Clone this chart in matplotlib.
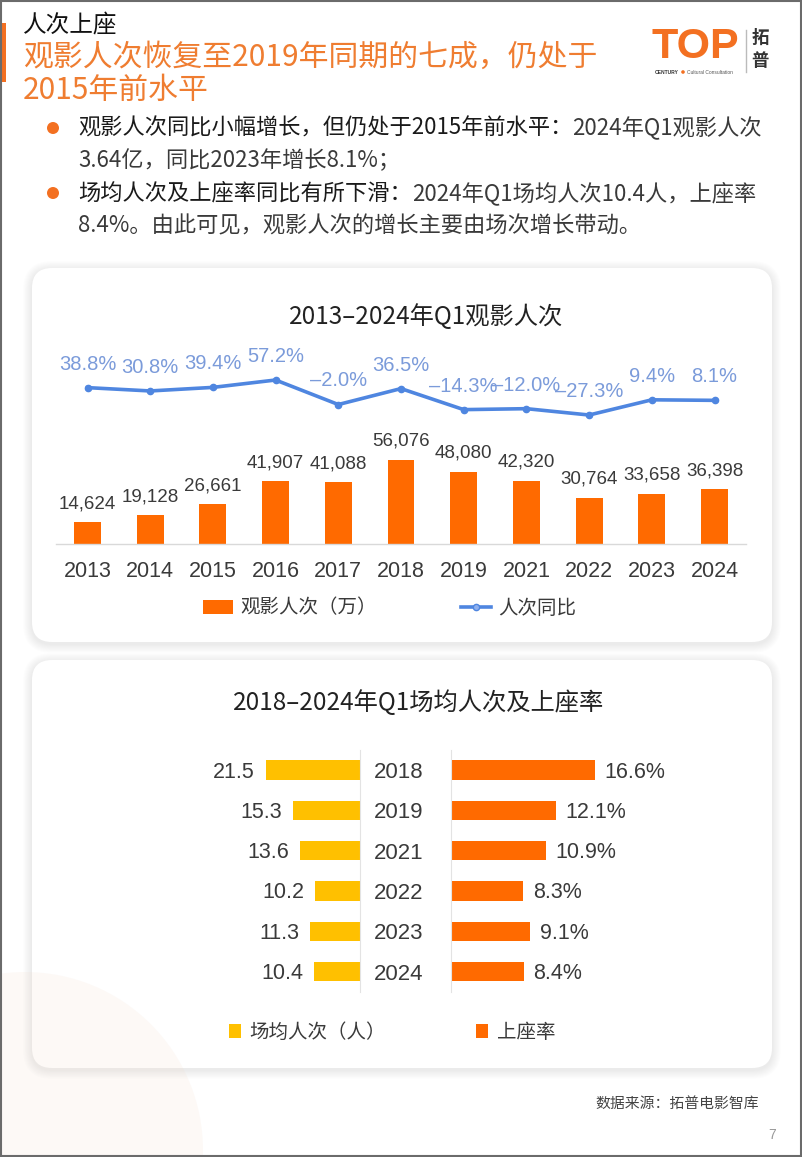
import matplotlib
matplotlib.use('Agg')
import matplotlib.pyplot as plt
from matplotlib.patches import FancyBboxPatch, Circle, Rectangle, Patch
from matplotlib.lines import Line2D

plt.rcParams['font.family'] = ['Noto Sans CJK SC', 'DejaVu Sans']
NUM = ['Liberation Sans', 'DejaVu Sans']

# ---------------- data ----------------
years1 = ['2013', '2014', '2015', '2016', '2017', '2018', '2019', '2021', '2022', '2023', '2024']
visitors = [14624, 19128, 26661, 41907, 41088, 56076, 48080, 42320, 30764, 33658, 36398]
yoy = [38.8, 30.8, 39.4, 57.2, -2.0, 36.5, -14.3, -12.0, -27.3, 9.4, 8.1]

years2 = ['2018', '2019', '2021', '2022', '2023', '2024']
avg_per_show = [21.5, 15.3, 13.6, 10.2, 11.3, 10.4]
occupancy = [16.6, 12.1, 10.9, 8.3, 9.1, 8.4]

ORANGE = '#FF6A00'
TITLE_OR = '#EF7D31'
YELLOW = '#FFC000'
BLUE = '#4F86E0'
BLUE_LBL = '#7B9BDA'
TXT = '#3a3a3a'

W, H = 802, 1157
fig = plt.figure(figsize=(W / 100, H / 100), dpi=100)
fig.patch.set_facecolor('white')


def ax_rect(x0, y0, x1, y1):
    return [x0 / W, 1 - y1 / H, (x1 - x0) / W, (y1 - y0) / H]


bg = fig.add_axes([0, 0, 1, 1])
bg.set_xlim(0, W)
bg.set_ylim(H, 0)
bg.axis('off')


def card(x0, y0, x1, y1):
    for k in range(10, 0, -1):
        e = k * 0.9
        bg.add_patch(FancyBboxPatch((x0 - e, y0 - e + 2), (x1 - x0) + 2 * e, (y1 - y0) + 2 * e,
                                    boxstyle=f'round,pad=0,rounding_size={20 + e}',
                                    fc='black', ec='none', alpha=0.007, zorder=1))
    bg.add_patch(FancyBboxPatch((x0, y0), x1 - x0, y1 - y0,
                                boxstyle='round,pad=0,rounding_size=20',
                                fc='white', ec='none', zorder=2))


card(32, 268, 772, 642)
card(32, 660, 772, 1068)

# faint decorative circle bottom-left
bg.add_patch(Circle((25, 1150), 178, fc='#F3DCCB', ec='none', alpha=0.16, zorder=3))

# frame
bg.add_patch(Rectangle((0.75, 0.75), W - 1.5, H - 1.5, fill=False, ec='#6b6b6b', lw=1.5, zorder=10))

# header
bg.add_patch(Rectangle((0, 23), 6, 59, fc='#F37021', ec='none', zorder=4))
bg.text(23, 26, '人次上座', fontsize=17, color='#111111', va='center', ha='left', zorder=5)
bg.text(23, 57, '观影人次恢复至2019年同期的七成，仍处于', fontsize=21.5, color=TITLE_OR,
        va='center', ha='left', zorder=5)
bg.text(23, 90, '2015年前水平', fontsize=21.5, color=TITLE_OR, va='center', ha='left', zorder=5)

# logo
bg.text(651, 47, 'TOP', fontsize=31, fontweight='bold', color='#F37021', family=NUM,
        va='center', ha='left', zorder=5)
bg.text(655, 72, 'CENTURY', fontsize=3.6, fontweight='bold', color='#333333', family=NUM,
        va='center', ha='left', zorder=5)
bg.add_patch(Circle((683, 72), 1.8, fc='#F37021', ec='none', zorder=5))
bg.text(687, 72, 'Cultural Consultation', fontsize=3.5, color='#555555', family=NUM,
        va='center', ha='left', zorder=5)
bg.plot([746, 746], [30, 72], color='#bbbbbb', lw=1, zorder=5)
bg.text(760, 38, '拓', fontsize=12.5, fontweight='bold', color='#333333', va='center', ha='center', zorder=5)
bg.text(760, 61, '普', fontsize=12.5, fontweight='bold', color='#333333', va='center', ha='center', zorder=5)

# bullets
renderer = fig.canvas.get_renderer()
bullets = [
    (128, '观影人次同比小幅增长，但仍处于2015年前水平：', '2024年Q1观影人次'),
    (161, '', '3.64亿，同比2023年增长8.1%；'),
    (193, '场均人次及上座率同比有所下滑：', '2024年Q1场均人次10.4人，上座率'),
    (226, '', '8.4%。由此可见，观影人次的增长主要由场次增长带动。'),
]
for y, lead, rest in bullets:
    x = 78
    if lead:
        bg.add_patch(Circle((53, y), 6, fc='#F37021', ec='none', zorder=5))
        t = bg.text(x, y, lead, fontsize=16, color='#1a1a1a', va='center', ha='left', zorder=5)
        bb = t.get_window_extent(renderer=renderer)
        x = bb.x1
    bg.text(x, y, rest, fontsize=16, color='#3a3a3a', va='center', ha='left', zorder=5)

# ---------------- chart 1 ----------------
bg.text(426, 317, '2013–2024年Q1观影人次', fontsize=17.5, color='#222222', va='center', ha='center', zorder=5)

ax1 = fig.add_axes(ax_rect(56.15, 340, 745.85, 544))
ax1.patch.set_alpha(0)
xs = list(range(len(years1)))
ax1.bar(xs, visitors, width=0.43, color=ORANGE, zorder=2)
ax1.set_xlim(-0.5, len(years1) - 0.5)
ax1.set_ylim(0, 136000)
for s in ['top', 'right', 'left']:
    ax1.spines[s].set_visible(False)
ax1.spines['bottom'].set_color('#d9d9d9')
ax1.spines['bottom'].set_linewidth(1)
ax1.set_yticks([])
ax1.set_xticks(xs)
ax1.set_xticklabels(years1, fontsize=15.5, family=NUM, color=TXT)
ax1.tick_params(axis='x', length=0, pad=12)
for i, v in zip(xs, visitors):
    ax1.annotate(f'{v:,}', (i, v), xytext=(0, 10), textcoords='offset points',
                 ha='center', va='baseline', fontsize=13.5, family=NUM, color=TXT)

ax1b = ax1.twinx()
ax1b.set_ylim(-338.7, 153.8)
ax1b.plot(xs, yoy, color=BLUE, lw=2.6, marker='o', ms=4.5, mfc=BLUE, mec=BLUE, zorder=3)
for s in ax1b.spines.values():
    s.set_visible(False)
ax1b.set_yticks([])
for i, v in zip(xs, yoy):
    ax1b.annotate(f'{v:.1f}%'.replace('-', '–'), (i, v), xytext=(0, 13), textcoords='offset points',
                  ha='center', va='baseline', fontsize=14.5, family=NUM, color=BLUE_LBL)

h1 = [Patch(fc=ORANGE, ec='none'),
      Line2D([], [], color=BLUE, lw=2.6, marker='o', ms=4.5, mfc='#8fb0ee', mec=BLUE)]
fig.legend(h1, ['观影人次（万）', '人次同比'], loc='center', bbox_to_anchor=(389.5 / W, 1 - 608 / H),
           ncol=2, frameon=False, fontsize=14, handlelength=1.55, handleheight=0.7,
           handletextpad=0.36, columnspacing=4.3, labelcolor=TXT)

# ---------------- chart 2 ----------------
bg.text(419, 703, '2018–2024年Q1场均人次及上座率', fontsize=17.5, color='#222222', va='center', ha='center', zorder=5)

rows = list(range(len(years2)))
ax2l = fig.add_axes(ax_rect(180, 749.85, 360, 991.65))
ax2l.patch.set_alpha(0)
ax2l.barh(rows, avg_per_show, height=0.48, color=YELLOW, zorder=2)
ax2l.set_xlim(41, 0)
ax2l.set_ylim(5.5, -0.5)
for s in ['top', 'left', 'bottom']:
    ax2l.spines[s].set_visible(False)
ax2l.spines['right'].set_color('#e3e3e3')
ax2l.set_xticks([])
ax2l.set_yticks([])
for i, v in zip(rows, avg_per_show):
    ax2l.annotate(f'{v}', (v, i), xytext=(-8, -5.4), textcoords='offset points',
                  ha='right', va='baseline', fontsize=15.5, family=NUM, color=TXT)

ax2r = fig.add_axes(ax_rect(451, 749.85, 700, 991.65))
ax2r.patch.set_alpha(0)
ax2r.barh(rows, occupancy, height=0.48, color=ORANGE, zorder=2)
ax2r.set_xlim(0, 28.7)
ax2r.set_ylim(5.5, -0.5)
for s in ['top', 'right', 'bottom']:
    ax2r.spines[s].set_visible(False)
ax2r.spines['left'].set_color('#e3e3e3')
ax2r.set_xticks([])
ax2r.set_yticks(rows)
ax2r.set_yticklabels(years2, fontsize=16, family=NUM, color=TXT)
for lbl in ax2r.get_yticklabels():
    lbl.set_horizontalalignment('center')
ax2r.tick_params(axis='y', length=0, pad=37.4)
for i, v in zip(rows, occupancy):
    ax2r.annotate(f'{v}%', (v, i), xytext=(7, -5.4), textcoords='offset points',
                  ha='left', va='baseline', fontsize=15.5, family=NUM, color=TXT)

h2 = [Patch(fc=YELLOW, ec='none'), Patch(fc=ORANGE, ec='none')]
fig.legend(h2, ['场均人次（人）', '上座率'], loc='center', bbox_to_anchor=(392 / W, 1 - 1032 / H),
           ncol=2, frameon=False, fontsize=14, handlelength=0.62, handleheight=0.7,
           handletextpad=0.46, columnspacing=4.6, labelcolor=TXT)

# footer
bg.text(759, 1104, '数据来源：拓普电影智库', fontsize=10.7, color='#444444', va='center', ha='right', zorder=5)
bg.text(772, 1135, '7', fontsize=10, color='#999999', family=NUM, va='center', ha='center', zorder=5)

fig.savefig('out.png', dpi=100)
